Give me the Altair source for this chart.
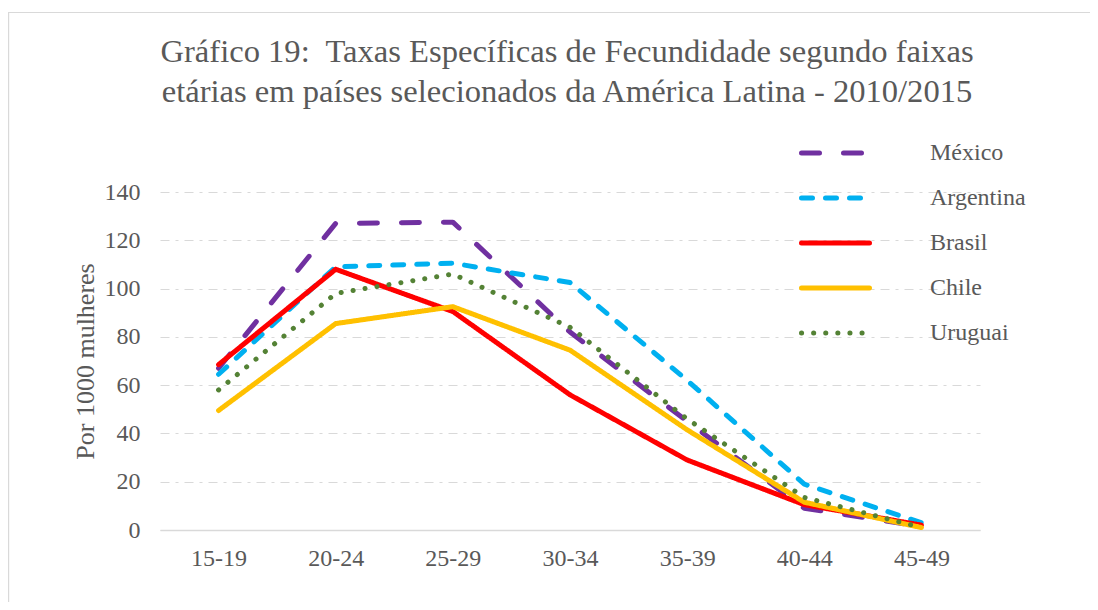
import altair as alt
import pandas as pd

ages = ["15-19", "20-24", "25-29", "30-34", "35-39", "40-44", "45-49"]
countries = ["México", "Argentina", "Brasil", "Chile", "Uruguai"]
mexico = [67, 127, 127.5, 82, 45, 9, 1.5]
argentina = [64.5, 109, 110.5, 102.5, 62, 19, 3]
brasil = [68.5, 108, 90.5, 56, 29, 10.5, 2]
chile = [49.5, 85.5, 92.5, 74.5, 41.5, 11.5, 1]
uruguai = [58, 98, 106, 84, 46, 13.5, 1]
y_ticks = [0, 20, 40, 60, 80, 100, 120, 140]
colors = ["#7030A0", "#00B0F0", "#FF0000", "#FFC000", "#548235"]
dashes = [[18, 24], [11, 13], [1, 0], [1, 0], [0.1, 12]]
title_lines = ["Gráfico 19:\u00a0 Taxas Específicas de Fecundidade segundo faixas",
               "etárias em países selecionados da América Latina - 2010/2015"]

rows = []
for c, vals in zip(countries, [mexico, argentina, brasil, chile, uruguai]):
    for a, v in zip(ages, vals):
        rows.append({"age": a, "country": c, "value": v})
df = pd.DataFrame(rows)
leg_df = pd.DataFrame({"country": countries})

FONT = "Liberation Serif"
TXT = "#595959"
GRID = "#D9D9D9"

color_enc = alt.Color("country:N", scale=alt.Scale(domain=countries, range=colors), legend=None)
dash_enc = alt.StrokeDash("country:N", scale=alt.Scale(domain=countries, range=dashes), legend=None)

lines = alt.Chart(df).mark_line(strokeWidth=5, strokeJoin="round", strokeCap="round").encode(
    x=alt.X("age:N", sort=ages, scale=alt.Scale(type="point", padding=0.5),
            axis=alt.Axis(title=None, labelAngle=0, labelFont=FONT, labelFontSize=24,
                          labelColor=TXT, labelPadding=16, ticks=False,
                          domainColor=GRID, domainWidth=1.5, grid=False)),
    y=alt.Y("value:Q", scale=alt.Scale(domain=[0, 140], nice=False),
            axis=alt.Axis(title="Por 1000 mulheres", values=y_ticks, labelFont=FONT,
                          labelFontSize=24, labelColor=TXT, labelPadding=20,
                          ticks=False, domain=False, grid=True, gridColor=GRID,
                          gridDash=[9, 6, 3, 6], gridWidth=1.2,
                          titleFont=FONT, titleFontSize=26, titleFontWeight="normal",
                          titleColor=TXT, titlePadding=6)),
    color=color_enc,
    strokeDash=dash_enc,
)

leg_y = alt.Y("country:N", sort=countries,
              scale=alt.Scale(type="point", domain=countries, range=[-39, 141], padding=0),
              axis=None)
leg_base = alt.Chart(leg_df)
leg_sym = leg_base.mark_rule(strokeWidth=5, strokeCap="round").encode(
    x=alt.value(641.5), x2=alt.value(709.5), y=leg_y, color=color_enc, strokeDash=dash_enc)
leg_txt = leg_base.mark_text(align="left", baseline="middle", font=FONT, fontSize=24,
                             color=TXT).encode(
    x=alt.value(770), y=leg_y, text="country:N")

base = alt.Chart(pd.DataFrame({"k": [0]}))
top_rule = base.mark_rule(color=GRID, strokeWidth=1.2).encode(
    x=alt.value(-152), x2=alt.value(930), y=alt.value(-179.5))
left_rule = base.mark_rule(color=GRID, strokeWidth=1.2).encode(
    x=alt.value(-151.4), y=alt.value(-180), y2=alt.value(410))

chart = alt.layer(top_rule, left_rule, lines, leg_sym, leg_txt).resolve_scale(
    y="independent").properties(
    width=820, height=338,
    title=alt.TitleParams(text=title_lines, font=FONT, fontSize=32.6, fontWeight="normal",
                          color=TXT, anchor="middle", frame="group", offset=0, dy=97,
                          dx=-3, lineHeight=40),
    padding={"left": 152, "top": 184, "right": 110, "bottom": 72},
    autosize=alt.AutoSizeParams(type="none"),
).configure(font=FONT).configure_view(stroke=None)

chart.save("out.html", embed_options={"renderer": "svg", "actions": False})
